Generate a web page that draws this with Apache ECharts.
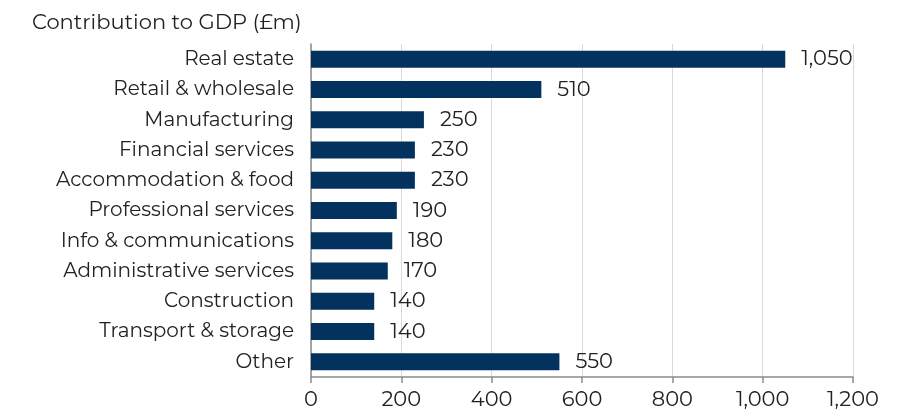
<!DOCTYPE html>
<html>
<head>
<meta charset="utf-8">
<script src="https://cdn.jsdelivr.net/npm/echarts@6/dist/echarts.min.js"></script>
<style>
  html, body { margin: 0; padding: 0; background: #fff; }
  #chart { width: 918px; height: 414px; }
</style>
</head>
<body>
<div id="chart"></div>
<script>
// sectors, top to bottom as drawn
const sectors = [
  'Real estate',
  'Retail & wholesale',
  'Manufacturing',
  'Financial services',
  'Accommodation & food',
  'Professional services',
  'Info & communications',
  'Administrative services',
  'Construction',
  'Transport & storage',
  'Other'
]
const gdpValues = [1050, 510, 250, 230, 230, 190, 180, 170, 140, 140, 550]
const xTicks = [0, 200, 400, 600, 800, 1000, 1200]

const fontFamily = 'Montserrat, "Open Sans", "Noto Sans", sans-serif'
const fmt = v => Number(v).toLocaleString('en-GB')

const chart = echarts.init(document.getElementById('chart'), null, { renderer: 'canvas' })

chart.setOption({
  animation: false,
  textStyle: { fontFamily: fontFamily },
  title: {
    text: 'Contribution to GDP (£m)',
    left: 27,
    top: 7,
    textStyle: { fontSize: 21, fontWeight: 'normal', color: '#222', fontFamily: fontFamily }
  },
  grid: {
    left: 311,
    right: 65,
    top: 44,
    bottom: 37,
    containLabel: false
  },
  xAxis: {
    type: 'value',
    min: xTicks[0],
    max: xTicks[xTicks.length - 1],
    interval: 200,
    axisLine: { show: true, lineStyle: { color: '#8c8c8c', width: 1.5 } },
    axisTick: { show: true, length: 6, lineStyle: { color: '#8c8c8c', width: 1.5 } },
    splitLine: { show: true, lineStyle: { color: '#d9d9d9', width: 1 } },
    axisLabel: {
      color: '#222',
      fontSize: 21,
      margin: 12,
      formatter: v => fmt(v)
    }
  },
  yAxis: {
    type: 'category',
    inverse: true,
    data: sectors,
    axisLine: { show: true, lineStyle: { color: '#8c8c8c', width: 1.5 } },
    axisTick: { show: false },
    axisLabel: { color: '#222', fontSize: 20, margin: 17 }
  },
  series: [
    {
      type: 'bar',
      data: gdpValues,
      barWidth: 17,
      itemStyle: { color: '#03325f' },
      label: {
        show: true,
        position: 'right',
        distance: 16,
        color: '#222',
        fontSize: 21,
        formatter: p => fmt(p.value)
      }
    }
  ]
})
</script>
</body>
</html>
